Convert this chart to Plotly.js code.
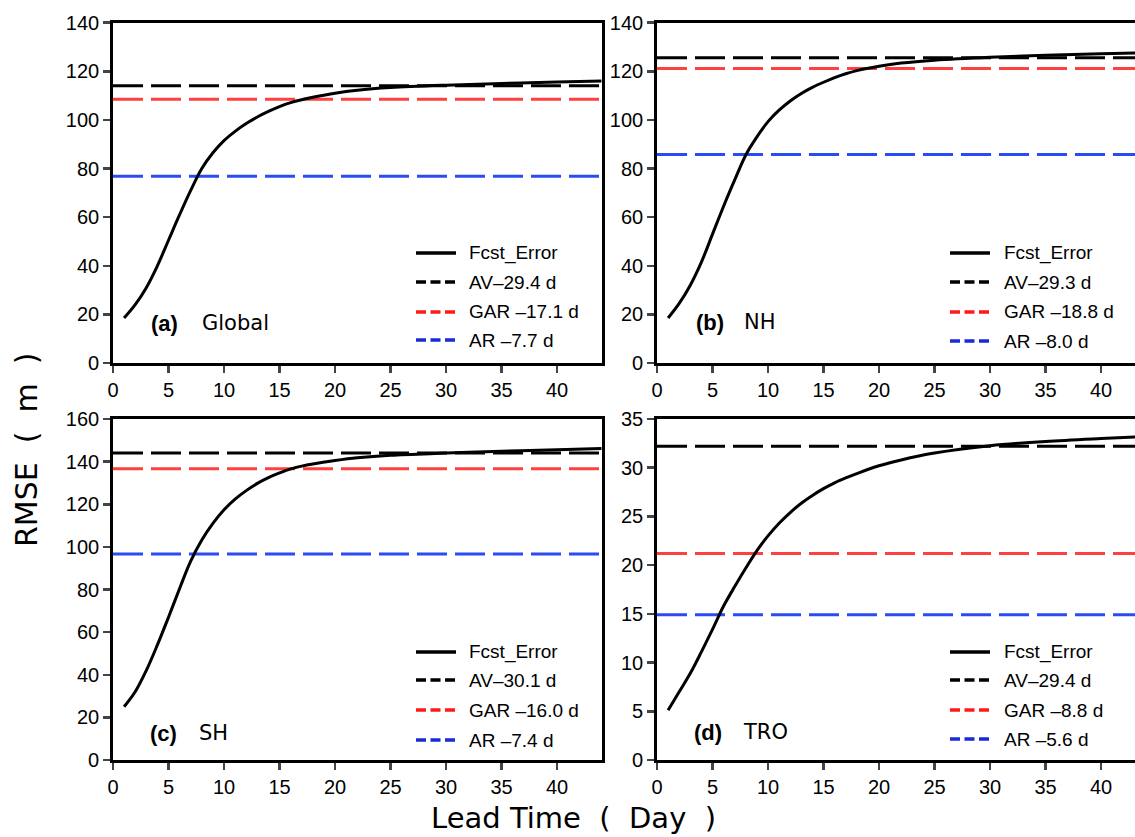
<!DOCTYPE html>
<html>
<head>
<meta charset="utf-8">
<script src="https://cdn.plot.ly/plotly-3.0.1.min.js"></script>
<style>html,body{margin:0;padding:0;background:#fff;}#chart{width:1135px;height:837px;}</style>
</head>
<body>
<div id="chart"></div>
<script>
// ---------------- data ----------------
const leadDays = [1,2,3,4,5,6,7,8,9,10,11,12,13,14,15,16,17,18,20,22,25,30,35,40,44];

const globalErr = [18.5,24,31,40,50.5,61,71,80,86.5,91.5,95.3,98.5,101.2,103.5,105.5,107.1,108.3,109.3,111,112.2,113.3,114.3,115,115.6,116];
const nhErr     = [18.5,24.5,32,41.5,53,64.5,75.3,85.6,93,99.3,104,107.8,110.9,113.4,115.5,117.4,119.0,120.3,122.1,123.4,124.6,125.8,126.6,127.2,127.7];
const shErr     = [25,32,42,54,67,80.5,93.3,103.2,111,117.4,122.4,126.4,129.8,132.5,134.7,136.6,137.9,138.9,140.5,141.8,143,144.0,144.9,145.6,146.2];
const troErr    = [5.1,7.0,8.9,11.1,13.4,15.8,17.8,19.7,21.5,23.0,24.3,25.4,26.35,27.15,27.85,28.45,28.95,29.4,30.2,30.8,31.5,32.25,32.7,33.0,33.2];

// reference levels: [AV, GAR, AR]
const globalRef = [114.1, 108.5, 76.8];
const nhRef     = [125.6, 121.2, 85.8];
const shRef     = [144.0, 136.6, 96.6];
const troRef    = [32.2, 21.2, 14.9];

const seriesNames = ["Fcst_Error", "AV", "GAR", "AR"];
const globalLabels = ["Fcst_Error", "AV\u201329.4 d", "GAR \u201317.1 d", "AR \u20137.7 d"];
const nhLabels     = ["Fcst_Error", "AV\u201329.3 d", "GAR \u201318.8 d", "AR \u20138.0 d"];
const shLabels     = ["Fcst_Error", "AV\u201330.1 d", "GAR \u201316.0 d", "AR \u20137.4 d"];
const troLabels    = ["Fcst_Error", "AV\u201329.4 d", "GAR \u20138.8 d", "AR \u20135.6 d"];

const panelTags  = ["(a)", "(b)", "(c)", "(d)"];
const panelNames = ["Global", "NH", "SH", "TRO"];

const xTickVals = [0,5,10,15,20,25,30,35,40];
const yTicksAB  = [0,20,40,60,80,100,120,140];
const yTicksC   = [0,20,40,60,80,100,120,140,160];
const yTicksD   = [0,5,10,15,20,25,30,35];

// ---------------- styling ----------------
const W = 1135, H = 837;
const px = v => v / W;
const py = v => 1 - v / H;
const lineColors   = ["#000000", "#000000", "#ff4040", "#2a4cf2"];
const legendColors = ["#000000", "#000000", "#ff1a1a", "#1a2ad6"];
const tickFont = {family: "Liberation Sans, Arial, sans-serif", size: 20, color: "#000"};
const labFont  = {family: "Liberation Sans, Arial, sans-serif", size: 19, color: "#000"};

const panels = [
  {err: globalErr, ref: globalRef, labels: globalLabels, xa: "x",  ya: "y",  ymax: 140, yt: yTicksAB, xmax: 44.05,
   box: [113, 602, 22.7, 363], leg: {sx: 416, tx: 467, rows: [253, 282, 312, 340]}, tag: {x: 149, nx: 200, y: 323}},
  {err: nhErr, ref: nhRef, labels: nhLabels, xa: "x2", ya: "y2", ymax: 140, yt: yTicksAB, xmax: 43.06,
   box: [657, 1135, 22.7, 363], leg: {sx: 950, tx: 1002, rows: [253, 282, 312, 341]}, tag: {x: 694, nx: 742, y: 322}},
  {err: shErr, ref: shRef, labels: shLabels, xa: "x3", ya: "y3", ymax: 160, yt: yTicksC, xmax: 44.05,
   box: [113, 602, 419, 760], leg: {sx: 416, tx: 467, rows: [652, 680, 710, 740]}, tag: {x: 148, nx: 197, y: 733}},
  {err: troErr, ref: troRef, labels: troLabels, xa: "x4", ya: "y4", ymax: 35, yt: yTicksD, xmax: 43.06,
   box: [657, 1135, 419, 760], leg: {sx: 950, tx: 1002, rows: [652, 680, 710, 739]}, tag: {x: 692, nx: 741, y: 732}}
];

const traces = [];
const layout = {
  width: W, height: H,
  margin: {l: 0, r: 0, t: 0, b: 0},
  paper_bgcolor: "#fff", plot_bgcolor: "#fff",
  showlegend: false,
  annotations: [], shapes: []
};

panels.forEach((p, i) => {
  p.ref.forEach((v, k) => {
    traces.push({
      x: [0, leadDays[leadDays.length - 1]], y: [v, v],
      xaxis: p.xa, yaxis: p.ya, mode: "lines", name: seriesNames[k + 1],
      line: {color: lineColors[k + 1], width: 3, dash: "30px,8px"},
      hoverinfo: "skip"
    });
  });
  traces.push({
    x: leadDays, y: p.err, xaxis: p.xa, yaxis: p.ya, mode: "lines", name: seriesNames[0],
    line: {color: "#000", width: 3, shape: "spline", smoothing: 1}
  });

  const sfx = i === 0 ? "" : String(i + 1);
  layout["xaxis" + sfx] = {
    domain: [px(p.box[0]), px(p.box[1])], anchor: p.ya,
    range: [0, p.xmax], tickvals: xTickVals, ticks: "outside", ticklen: 7, tickwidth: 2.5,
    showline: true, linewidth: 2.8, linecolor: "#000", mirror: true,
    showgrid: false, zeroline: false, tickfont: tickFont, fixedrange: true
  };
  layout["yaxis" + sfx] = {
    domain: [py(p.box[3]), py(p.box[2])], anchor: p.xa,
    range: [0, p.ymax], tickvals: p.yt, ticks: "outside", ticklen: 7, tickwidth: 2.5,
    showline: true, linewidth: 2.8, linecolor: "#000", mirror: (i % 2 === 0),
    showgrid: false, zeroline: false, tickfont: tickFont, fixedrange: true
  };

  p.labels.forEach((lab, k) => {
    const yy = p.leg.rows[k];
    layout.shapes.push({
      type: "line", xref: "paper", yref: "paper",
      x0: px(p.leg.sx), x1: px(p.leg.sx + 40), y0: py(yy), y1: py(yy),
      line: {color: legendColors[k], width: 3.5, dash: k === 0 ? "solid" : "10px,4.5px"}
    });
    layout.annotations.push({
      xref: "paper", yref: "paper", x: px(p.leg.tx), y: py(yy),
      xanchor: "left", yanchor: "middle", showarrow: false,
      text: lab, font: labFont
    });
  });

  layout.annotations.push({
    xref: "paper", yref: "paper", x: px(p.tag.x), y: py(p.tag.y),
    xanchor: "left", yanchor: "middle", showarrow: false,
    text: "<b>" + panelTags[i] + "</b>", font: {family: "Liberation Sans, Arial, sans-serif", size: 22, color: "#000"}
  });
  layout.annotations.push({
    xref: "paper", yref: "paper", x: px(p.tag.nx), y: py(p.tag.y),
    xanchor: "left", yanchor: "middle", showarrow: false,
    text: panelNames[i], font: {family: "DejaVu Sans, sans-serif", size: 21, color: "#000"}
  });
});

// shared axis titles
layout.annotations.push({
  xref: "paper", yref: "paper", x: px(573), y: py(818),
  xanchor: "center", yanchor: "middle", showarrow: false,
  text: "Lead Time\u00a0\u00a0(\u00a0\u00a0Day\u00a0\u00a0)", font: {family: "DejaVu Sans, sans-serif", size: 29, color: "#000"}
});
layout.annotations.push({
  xref: "paper", yref: "paper", x: px(26), y: py(450),
  xanchor: "center", yanchor: "middle", showarrow: false, textangle: -90,
  text: "RMSE\u00a0\u00a0(\u00a0\u00a0m\u00a0\u00a0)", font: {family: "DejaVu Sans, sans-serif", size: 30, color: "#000"}
});

Plotly.newPlot("chart", traces, layout, {staticPlot: true, displayModeBar: false});
</script>
</body>
</html>
